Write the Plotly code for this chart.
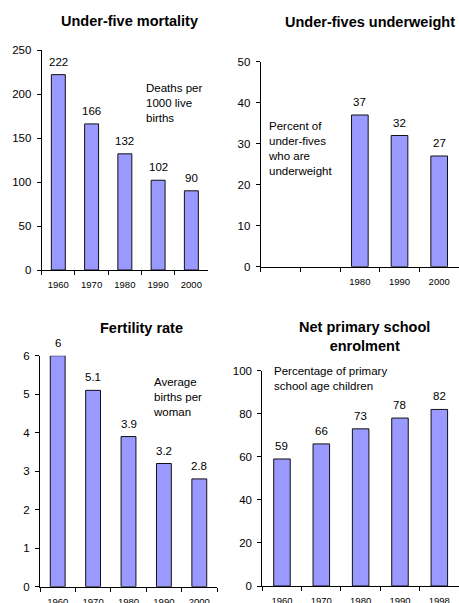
import plotly.graph_objects as go

# ---- data ----
mortality_years = ["1960", "1970", "1980", "1990", "2000"]
mortality_values = [222, 166, 132, 102, 90]

underweight_years = ["1960", "1970", "1980", "1990", "2000"]
underweight_values = [None, None, 37, 32, 27]
underweight_ticklabels = ["", "", "1980", "1990", "2000"]

fertility_years = ["1960", "1970", "1980", "1990", "2000"]
fertility_values = [6, 5.1, 3.9, 3.2, 2.8]

enrolment_years = ["1960", "1970", "1980", "1990", "1998"]
enrolment_values = [59, 66, 73, 78, 82]

titles = ["Under-five mortality", "Under-fives underweight",
          "Fertility rate", "Net primary school<br>enrolment"]
notes = ["Deaths per<br>1000 live<br>births",
         "Percent of<br>under-fives<br>who are<br>underweight",
         "Average<br>births per<br>woman",
         "Percentage of primary<br>school age children"]
y_ranges = [250, 50, 6, 100]
y_dtick = [50, 10, 1, 20]

W, H = 459, 603
BAR_FILL = "#9999ff"
FONT = "Liberation Sans, Arial, sans-serif"


def px_x(p):
    return p / W


def px_y(p):
    return 1 - p / H


# plot-area boxes in pixels: left, right, top, bottom
boxes = [
    (41.7, 208.0, 50.0, 270.0),
    (260.7, 459.0, 61.7, 266.7),
    (40.0, 217.0, 355.7, 586.7),
    (262.3, 459.0, 370.7, 586.0),
]
title_pos = [(129, 21), (370, 22), (141, 328), (364, 336)]
note_pos = [(144, 80), (266, 118.5), (150.5, 374), (271.5, 363)]

panels = [
    (mortality_years, mortality_values, None),
    (underweight_years, underweight_values, underweight_ticklabels),
    (fertility_years, fertility_values, None),
    (enrolment_years, enrolment_values, None),
]

fig = go.Figure()
annotations = []
layout = {}

for i, (cats, vals, ticklabels) in enumerate(panels):
    n = "" if i == 0 else str(i + 1)
    xa, ya = "x" + n, "y" + n
    fig.add_trace(go.Bar(
        x=cats, y=vals, xaxis=xa, yaxis=ya, width=0.42,
        marker=dict(color=BAR_FILL, line=dict(color="#111111", width=1)),
        showlegend=False, hoverinfo="x+y",
    ))
    # value labels above each bar (x given as category index)
    for j, v in enumerate(vals):
        if v is None:
            continue
        annotations.append(dict(
            x=j, y=v, xref=xa, yref=ya, text=f"{v:g}", showarrow=False,
            yanchor="bottom", yshift=5,
            font=dict(size=11.5, color="black", family=FONT),
        ))

    l, r, t, b = boxes[i]
    xaxis = dict(
        domain=[px_x(l), px_x(r)], anchor=ya, type="category",
        categoryorder="array", categoryarray=cats, range=[-0.5, 4.5],
        showline=True, linecolor="black", linewidth=1,
        ticks="outside", tickson="boundaries", ticklen=4, tickcolor="black",
        ticklabelstandoff=6,
        tickfont=dict(size=9.5, color="black", family=FONT),
        showgrid=False, zeroline=False, automargin=False, fixedrange=True,
    )
    if ticklabels is not None:
        xaxis.update(tickmode="array", tickvals=cats, ticktext=ticklabels)
    yaxis = dict(
        domain=[px_y(b), px_y(t)], anchor=xa, range=[0, y_ranges[i]],
        dtick=y_dtick[i], tick0=0,
        showline=True, linecolor="black", linewidth=1,
        ticks="outside", ticklen=4, tickcolor="black",
        ticklabelstandoff=3,
        tickfont=dict(size=11.5, color="black", family=FONT),
        showgrid=False, zeroline=False, automargin=False, fixedrange=True,
    )
    layout["xaxis" + n] = xaxis
    layout["yaxis" + n] = yaxis

    tx, ty = title_pos[i]
    annotations.append(dict(
        x=px_x(tx), y=px_y(ty), xref="paper", yref="paper",
        text=f"<b>{titles[i]}</b>", showarrow=False,
        xanchor="center", yanchor="middle",
        font=dict(size=14.5, color="black", family=FONT),
    ))
    nx, ny = note_pos[i]
    annotations.append(dict(
        x=px_x(nx), y=px_y(ny), xref="paper", yref="paper",
        text=notes[i], showarrow=False, align="left",
        xanchor="left", yanchor="top",
        font=dict(size=11.5, color="black", family=FONT),
    ))

fig.update_layout(
    width=W, height=H,
    margin=dict(l=0, r=0, t=0, b=0),
    paper_bgcolor="white", plot_bgcolor="white",
    annotations=annotations,
    bargap=0.58,
    **layout,
)

fig.write_html("out.html", config={"displayModeBar": False})
